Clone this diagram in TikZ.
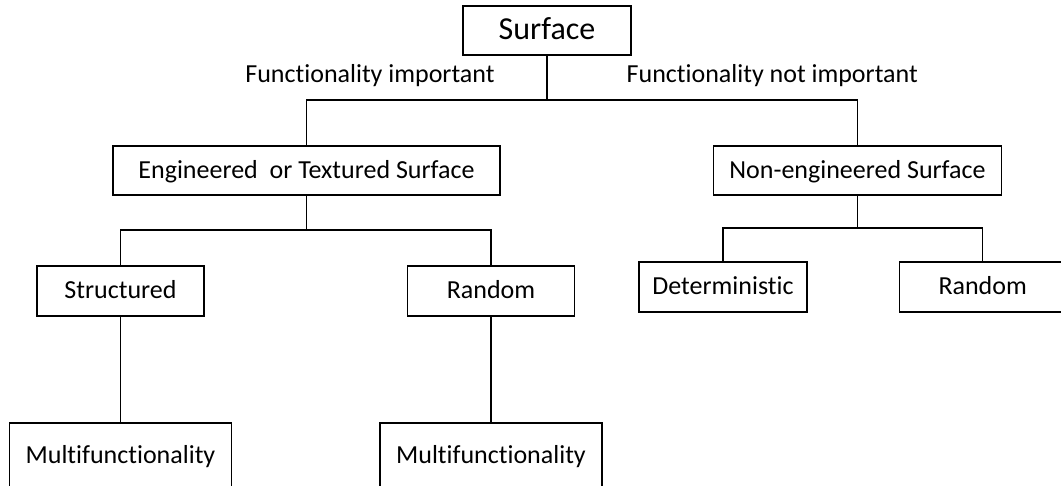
\documentclass[tikz,border=0pt]{standalone}
\usepackage{fontspec}
\setmainfont[Ligatures=NoCommon]{Carlito}
\begin{document}
\begin{tikzpicture}[x=1pt,y=-1pt,
  line width=1.4pt,
  box/.style={draw, inner sep=0pt, align=center,
    font=\fontsize{26}{30}\selectfont, text height=20pt, text depth=4pt},
  lbl/.style={inner sep=0pt, font=\fontsize{26}{30}\selectfont,
    text height=19pt, text depth=4pt}]
\clip (0,0) rectangle (1061,486);
\useasboundingbox (0,0) rectangle (1061,486);

% root
\node[box, minimum width=168pt, minimum height=49pt,
      font=\fontsize{32}{36}\selectfont, text height=23pt, text depth=4pt]
      (surface) at (547,30.5) {Surface};
\node[lbl] (lblimp) at (370,75) {Functionality important};
\node[lbl, anchor=west] (lblnot) at (626,75) {Functionality not important};

% second level
\node[box, minimum width=387pt, minimum height=49pt] (eng) at (306.5,170.5) {Engineered\ \ or Textured Surface};
\node[box, minimum width=288pt, minimum height=49pt] (noneng) at (857.5,170.5) {Non-engineered Surface};

% third level
\node[box, minimum width=167pt, minimum height=50pt] (struct) at (120.5,291) {Structured};
\node[box, minimum width=167pt, minimum height=50pt] (rand) at (491,291) {Random};
\node[box, minimum width=168pt, minimum height=50pt] (determ) at (723,287) {Deterministic};
\node[box, minimum width=167pt, minimum height=50pt] (rand2) at (982.7,287) {Random};

% fourth level
\node[box, minimum width=222pt, minimum height=66pt] (multi1) at (120.5,456) {Multifunctionality};
\node[box, minimum width=222pt, minimum height=66pt] (multi2) at (491,456) {Multifunctionality};

% junction points of the connectors
\coordinate (j0) at (547,100);
\coordinate (j1) at (306.5,230);
\coordinate (j2) at (857.5,228);

\draw (surface.south) -- (j0);
\draw (eng.north) |- (j0) -| (noneng.north);
\draw (eng.south) -- (j1);
\draw (struct.north) |- (j1) -| (rand.north);
\draw (noneng.south) -- (j2);
\draw (determ.north) |- (j2) -| (rand2.north);
\draw (struct.south) -- (multi1.north);
\draw (rand.south) -- (multi2.north);
\end{tikzpicture}
\end{document}
